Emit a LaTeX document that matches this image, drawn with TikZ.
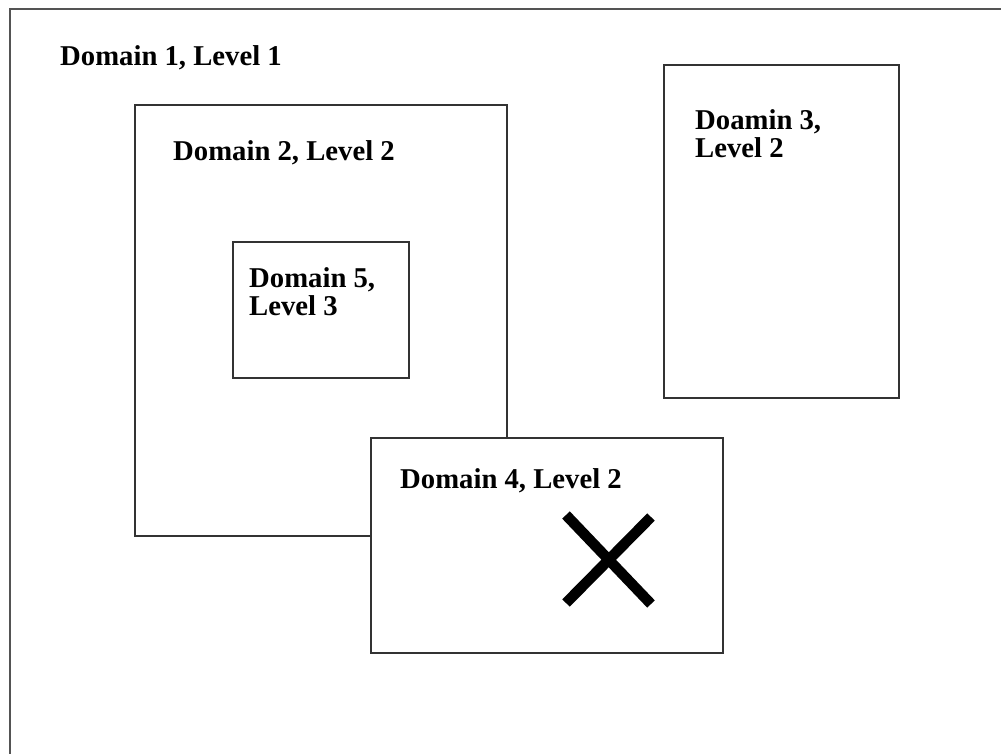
\documentclass[tikz,border=0pt]{standalone}
\usepackage{fontspec}
\setmainfont{Liberation Serif}
\begin{document}
\begin{tikzpicture}[x=1pt,y=-1pt,
  box/.style={draw=black!80,line width=1.3pt,fill=white,rectangle,inner sep=0pt},
  lbl/.style={anchor=base west,inner sep=0pt,font=\bfseries\fontsize{28.7}{28.8}\selectfont},
  frame/.style={draw=black!67,line width=2.2pt},
  cross/.style={line width=10.5pt,line cap=butt}]
\useasboundingbox (0,0) rectangle (1001,753);
% Domain 1 frame (only top and left edges fall inside the picture)
\draw[frame] (1010,9) -- (10,9) -- (10,760);
\node[lbl] (t1) at (60,65) {Domain 1, Level 1};
% Domain 2
\node[box,minimum width=372pt,minimum height=431pt] (d2) at (321,320.5) {};
\node[lbl] (t2) at (173,160) {Domain 2, Level 2};
% Domain 5
\node[box,minimum width=176pt,minimum height=136pt] (d5) at (321,310) {};
\node[lbl] (t5) at (249,287) {\vtop{\hbox{Domain 5,}\hbox{Level 3}}};
% Domain 3
\node[box,minimum width=235pt,minimum height=333pt] (d3) at (781.5,231.5) {};
\node[lbl] (t3) at (695,129) {\vtop{\hbox{Doamin 3,}\hbox{Level 2}}};
% Domain 4
\node[box,minimum width=352pt,minimum height=215pt] (d4) at (547,545.5) {};
\node[lbl] (t4) at (400,488) {Domain 4, Level 2};
% Cross
\draw[cross] (566,515) -- (651,604);
\draw[cross] (651,517) -- (566,603);
\end{tikzpicture}
\end{document}
